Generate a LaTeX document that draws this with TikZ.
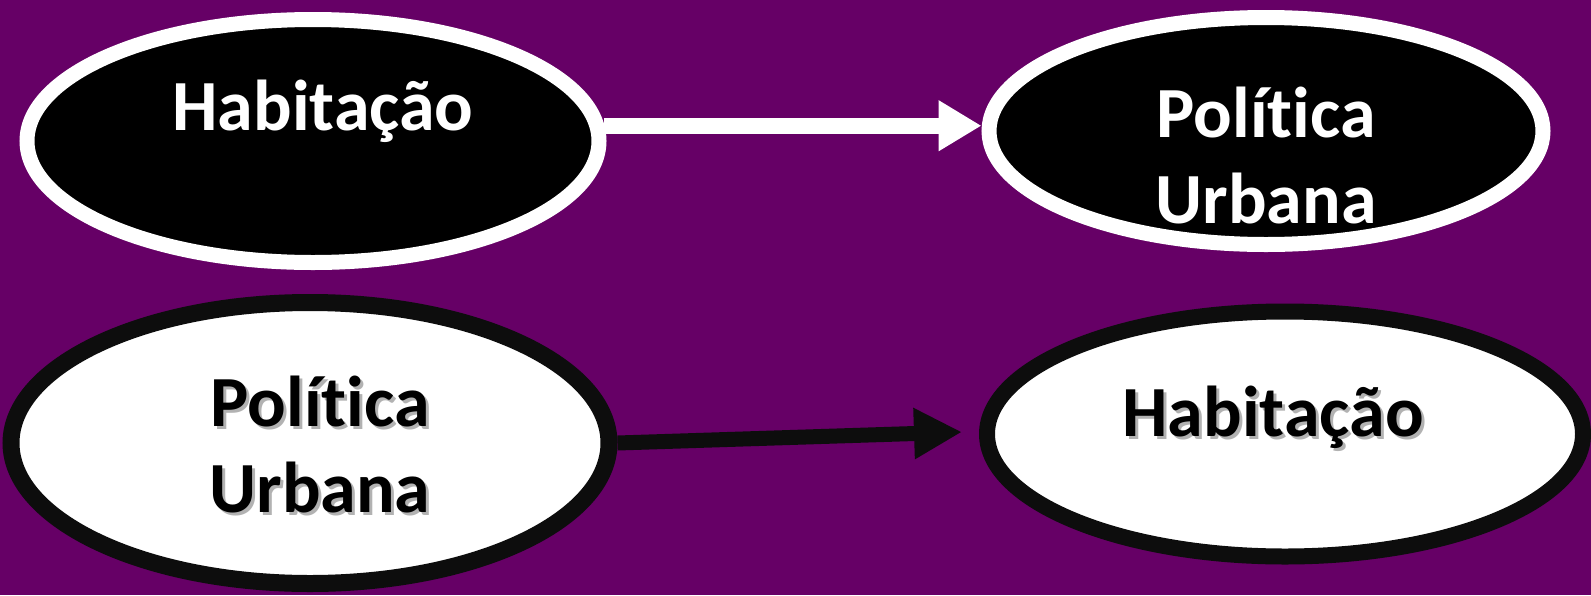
\documentclass[tikz,border=0pt]{standalone}
\usepackage{fontspec}
\setmainfont{Carlito}[RawFeature={-liga;-dlig;-calt;-clig}]
\usetikzlibrary{shapes.geometric,arrows.meta}
\definecolor{bgpurple}{RGB}{102,0,102}
\definecolor{inkblack}{RGB}{13,13,13}
\begin{document}
\begin{tikzpicture}[x=1pt,y=-1pt,
  darkoval/.style={ellipse,draw=white,fill=black,line width=15pt,inner sep=0pt},
  lightoval/.style={ellipse,draw=inkblack,fill=white,line width=16pt,inner sep=0pt},
  caption/.style={font=\fontsize{72}{86}\selectfont\bfseries,inner sep=0pt,anchor=base},
  shade/.style={caption,text=black!60,opacity=0.5},
  whitearrow/.style={draw=white,line width=16pt,-{Triangle[length=43pt,width=48pt]}},
  blackarrow/.style={draw=inkblack,line width=15pt,-{Triangle[length=48pt,width=48pt]}}]
  % background
  \fill[bgpurple] (0,0) rectangle (1591,595);
  \useasboundingbox (0,0) rectangle (1591,595);

  % upper row: dark ovals
  \node[darkoval,minimum width=572pt,minimum height=243pt] (h1) at (313,141) {};
  \node[darkoval,minimum width=554pt,minimum height=227pt] (p1) at (1266,131) {};
  \node[caption,text=white] (h1t) at (323,130) {Habitação};
  \node[caption,text=white] (p1t) at (1266,137)
    {\begin{tabular}[t]{@{}c@{}}Política\\Urbana\end{tabular}};
  \coordinate (a1) at (h1.3.7);
  \draw[whitearrow] (a1) -- (a1 -| p1.west);

  % lower row: light ovals
  \node[lightoval,line width=17pt,minimum width=598pt,minimum height=281pt] (p2) at (310,443) {};
  \node[lightoval,minimum width=596pt,minimum height=245pt] (h2) at (1285,434) {};
  \node[shade] (p2s) at (323,429)
    {\begin{tabular}[t]{@{}c@{}}Política\\Urbana\end{tabular}};
  \node[caption,text=black] (p2t) at (320,426)
    {\begin{tabular}[t]{@{}c@{}}Política\\Urbana\end{tabular}};
  \node[shade] (h2s) at (1276,439) {Habitação};
  \node[caption,text=black] (h2t) at (1273,436) {Habitação};
  \draw[blackarrow] (p2.0.6) -- ([xshift=-17pt,yshift=2pt]h2.west);
\end{tikzpicture}
\end{document}
